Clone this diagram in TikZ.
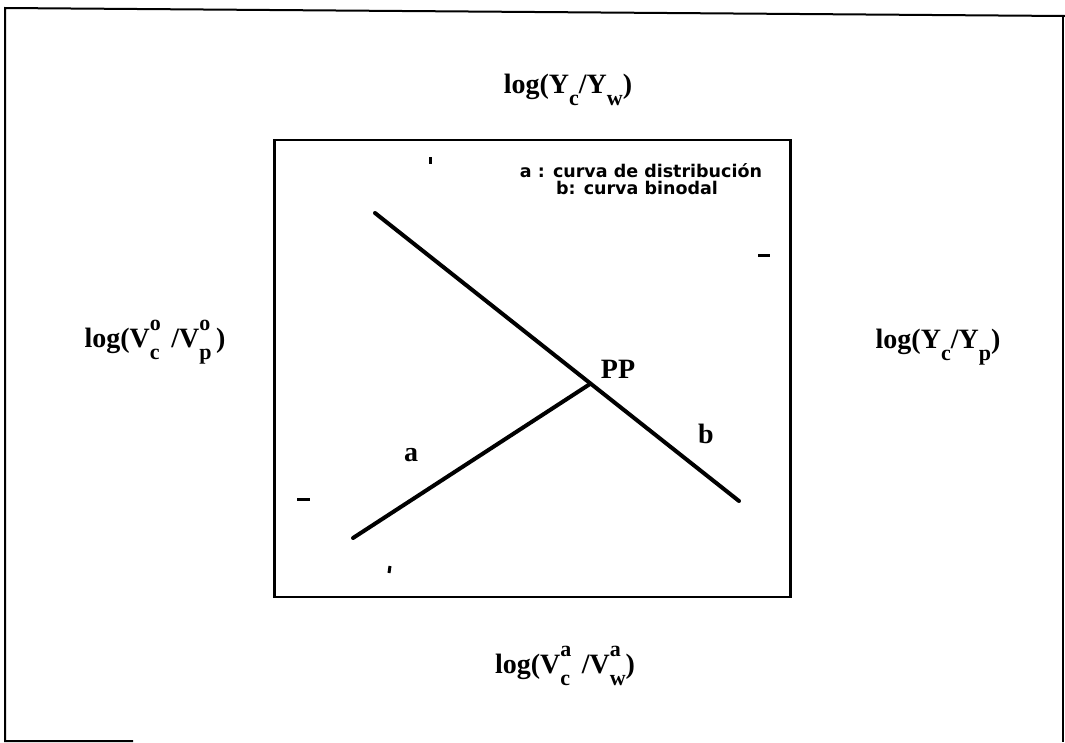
\documentclass[tikz,border=0pt]{standalone}
\usepackage{fontspec}
\setmainfont{Liberation Serif}
\newfontfamily\legendfont{DejaVu Sans}
\newcommand{\sbs}[1]{\raisebox{-0.45em}{\fontsize{22}{22}\selectfont #1}}
\newcommand{\sps}[2]{\rlap{\raisebox{0.6em}{\fontsize{22}{22}\selectfont #1}}\raisebox{-0.45em}{\fontsize{22}{22}\selectfont #2}}
\tikzset{
  frame/.style={line width=2pt},
  boxline/.style={line width=2.4pt},
  curve/.style={line width=4pt},
  axlabel/.style={font=\bfseries\fontsize{28}{32}\selectfont, inner sep=0pt, anchor=base},
  legend/.style={font=\legendfont\bfseries\fontsize{17.5}{17}\selectfont, inner sep=0pt, align=center, anchor=base},
  speck/.style={line width=3pt}
}
\begin{document}
\begin{tikzpicture}[x=1pt,y=-1pt]
\useasboundingbox (0,0) rectangle (1065,742);
% outer frame
\coordinate (o1) at (5,8);
\coordinate (o2) at (1065,16);
\coordinate (o3) at (1063,742);
\coordinate (o4) at (5,741);
\coordinate (o5) at (133,741);
\coordinate (o6) at (1063,16);
\draw[frame] (o2) -- (o1) -- (o4) -- (o5);
\draw[frame] (o6) -- (o3);
% inner box
\node[draw, boxline, minimum width=516pt, minimum height=457pt, inner sep=0pt] (box) at (532.5,368.5) {};
% curves
\coordinate (b1) at (375,213);
\coordinate (b2) at (739,501);
\coordinate (PPpt) at (590,384);
\coordinate (a1) at (353,538);
\draw[curve, line cap=round] (b1) -- (b2);
\draw[curve, line cap=round] (a1) -- (PPpt);
% labels
\node[axlabel] (pp) at (618,378) {PP};
\node[axlabel] (lb) at (706,443) {b};
\node[axlabel] (la) at (411,461) {a};
\node[axlabel] (top) at (568,93) {log(Y\sbs{c}/Y\sbs{w})};
\node[axlabel] (left) at (155,347) {log(V\sps{o}{c}\, /V\sps{o}{p}\,)};
\node[axlabel] (right) at (938,348) {log(Y\sbs{c}/Y\sbs{p})};
\node[axlabel] (bottom) at (565,673) {log(V\sps{a}{c}\, /V\sps{a}{w})};
\node[legend] (leg1) at (641,177) {a : curva de distribución};
\node[legend] (leg2) at (637,194) {b: curva binodal};
% specks
\draw[speck] (430,157) -- (430,164);
\draw[speck] (758,255) -- (770,255);
\draw[speck] (297,499) -- (310,499);
\draw[speck] (390,566) -- (389,573);
\end{tikzpicture}
\end{document}
